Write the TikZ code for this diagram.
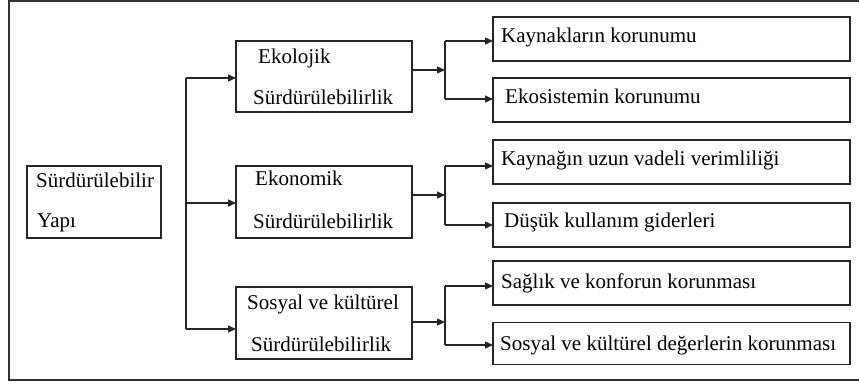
\documentclass[tikz,border=0pt]{standalone}
\usepackage{fontspec}
\setmainfont{Liberation Serif}
\usetikzlibrary{arrows.meta}
\begin{document}
\begin{tikzpicture}[x=1pt,y=-1pt,
  box/.style={draw=black!85,line width=1.3pt,inner sep=0pt,outer sep=0pt},
  txt/.style={anchor=base west,inner sep=0pt,font=\rmfamily\fontsize{21}{24}\selectfont},
  line/.style={draw=black!85,line width=1.3pt},
  arr/.style={line,-{Triangle[length=8pt,width=7pt]}}]
\useasboundingbox (0,0) rectangle (859,383);
\draw[draw=black!80,line width=1.6pt] (859,1) -- (9,1) -- (9,380) -- (859,380);
% boxes
\node[box,minimum width=134pt,minimum height=72pt] (root) at (94,202) {};
\node[box,minimum width=176pt,minimum height=71pt] (eko) at (324,76.5) {};
\node[box,minimum width=176pt,minimum height=72pt] (ekon) at (324,202) {};
\node[box,minimum width=176pt,minimum height=72pt] (sos) at (324,323) {};
\node[box,minimum width=357pt,minimum height=44pt] (r1) at (671.5,39) {};
\node[box,minimum width=357pt,minimum height=44pt] (r2) at (671.5,100) {};
\node[box,minimum width=357pt,minimum height=44pt] (r3) at (671.5,162) {};
\node[box,minimum width=357pt,minimum height=44pt] (r4) at (671.5,225) {};
\node[box,minimum width=357pt,minimum height=44pt] (r5) at (671.5,283) {};
\node[box,minimum width=357pt,minimum height=42pt] (r6) at (671.5,343.5) {};
% texts
\node[txt] (t0a) at (36,187) {Sürdürülebilir};
\node[txt] (t0b) at (37,227) {Yapı};
\node[txt] (t1a) at (258,63) {Ekolojik};
\node[txt] (t1b) at (253,104) {Sürdürülebilirlik};
\node[txt] (t2a) at (255,185) {Ekonomik};
\node[txt] (t2b) at (253,228) {Sürdürülebilirlik};
\node[txt] (t3a) at (247,309) {Sosyal ve kültürel};
\node[txt] (t3b) at (251,351) {Sürdürülebilirlik};
\node[txt] (u1) at (501,42) {Kaynakların korunumu};
\node[txt] (u2) at (505,103) {Ekosistemin korunumu};
\node[txt] (u3) at (501,165) {Kaynağın uzun vadeli verimliliği};
\node[txt] (u4) at (504,227) {Düşük kullanım giderleri};
\node[txt] (u5) at (501,288) {Sağlık ve konforun korunması};
\node[txt] (u6) at (500,350) {Sosyal ve kültürel değerlerin korunması};
% trunk
\coordinate (k1) at (186,78);
\coordinate (k2) at (186,203);
\coordinate (k3) at (186,329);
\draw[line] (k1) -- (k3);
\draw[arr] (k1) -- (k1 -| eko.west);
\draw[arr] (k2) -- (k2 -| ekon.west);
\draw[arr] (k3) -- (k3 -| sos.west);
% ecology branch
\coordinate (a0) at (445,70);
\coordinate (a1) at (445,41);
\coordinate (a2) at (445,99);
\draw[arr] (a0 -| eko.east) -- (a0);
\draw[line] (a1) -- (a2);
\draw[arr] (a1) -- (a1 -| r1.west);
\draw[arr] (a2) -- (a2 -| r2.west);
% economy branch
\coordinate (b0) at (445,195);
\coordinate (b1) at (445,166);
\coordinate (b2) at (445,225);
\draw[arr] (b0 -| ekon.east) -- (b0);
\draw[line] (b1) -- (b2);
\draw[arr] (b1) -- (b1 -| r3.west);
\draw[arr] (b2) -- (b2 -| r4.west);
% social branch
\coordinate (c0) at (445,322);
\coordinate (c1) at (445,286);
\coordinate (c2) at (445,345);
\draw[arr] (c0 -| sos.east) -- (c0);
\draw[line] (c1) -- (c2);
\draw[arr] (c1) -- (c1 -| r5.west);
\draw[arr] (c2) -- (c2 -| r6.west);
\end{tikzpicture}
\end{document}
